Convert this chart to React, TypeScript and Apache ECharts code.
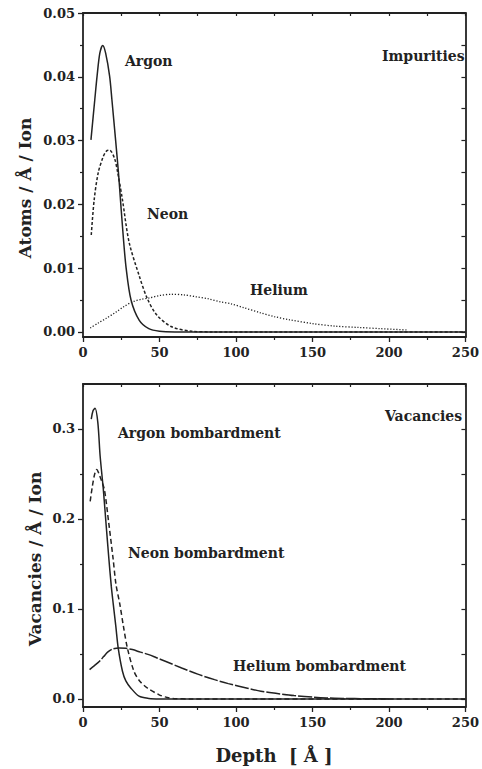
import React, { useEffect, useRef } from "react";
import * as echarts from "echarts";

// Depth profiles: [depth (Å), value]
const impArgon: [number, number][] = [
  [5.2, 0.0301], [7.7, 0.0364], [9.2, 0.0401], [11, 0.0437], [12.9, 0.0449], [14.8, 0.0437],
  [17.4, 0.0401], [18.9, 0.0364], [21.3, 0.0301], [23.2, 0.0249], [24.5, 0.0207], [26.3, 0.015],
  [28.2, 0.01], [31.4, 0.005], [36.8, 0.0018], [43, 0.0005], [50, 0.0001], [60, 0], [100, 0], [250, 0],
];
const impNeon: [number, number][] = [
  [5.4, 0.0152], [7.3, 0.0207], [9.9, 0.0249], [13.1, 0.0274], [15.5, 0.0284], [17.4, 0.0285],
  [20.6, 0.0272], [22.6, 0.0251], [25.8, 0.0207], [30.1, 0.0141], [36.6, 0.0089], [41.9, 0.0053],
  [48.4, 0.0026], [58, 0.0008], [71, 0.0001], [85, 0], [120, 0], [250, 0],
];
const impHelium: [number, number][] = [
  [4.7, 0.0006], [10, 0.0014], [15, 0.0021], [21.5, 0.0031], [27, 0.004], [32.3, 0.0047],
  [38, 0.0051], [43, 0.0053], [50, 0.0057], [58, 0.0059], [66, 0.0058], [74, 0.0055],
  [81.7, 0.0052], [90, 0.0047], [96.8, 0.0044], [105, 0.0038], [116, 0.003], [125, 0.0024],
  [135, 0.0019], [150, 0.0013], [165, 0.0009], [180, 0.0007], [195, 0.0005], [212, 0.0003],
];

const vacArgon: [number, number][] = [
  [5.4, 0.311], [6.5, 0.32], [7.9, 0.323], [9.7, 0.307], [11.2, 0.27], [13.3, 0.2326],
  [15, 0.196], [16.8, 0.158], [18.5, 0.125], [19.8, 0.105], [21.5, 0.08], [23, 0.0567],
  [25.8, 0.0307], [28, 0.02], [31.2, 0.0122], [36.6, 0.003], [43, 0.0005], [50, 0], [90, 0], [250, 0],
];
const vacNeon: [number, number][] = [
  [4.7, 0.2196], [6, 0.235], [7.5, 0.249], [9, 0.255], [10.5, 0.25], [12, 0.243],
  [14, 0.2326], [16.8, 0.196], [19.6, 0.157], [21.5, 0.128], [24.1, 0.105], [26.5, 0.08],
  [29, 0.0567], [33.3, 0.0307], [37, 0.02], [42, 0.0122], [49.5, 0.0048], [55, 0.0015],
  [60, 0.0003], [70, 0], [110, 0], [250, 0],
];
const vacHelium: [number, number][] = [
  [4.3, 0.0326], [7.5, 0.037], [10.8, 0.0418], [13.5, 0.047], [16.1, 0.052], [19.5, 0.0555],
  [23.7, 0.0567], [28, 0.0562], [32.3, 0.0548], [37.5, 0.052], [43, 0.0492], [48, 0.0458],
  [53.8, 0.0418], [64.5, 0.0344], [75, 0.0275], [86, 0.0214], [95, 0.017], [107.5, 0.0118],
  [116.3, 0.0085], [126.9, 0.006], [137.9, 0.0037], [150, 0.002], [159, 0.0011], [170, 0.0005],
  [185, 0.0002], [200, 0],
];

// Axis tick values
const impMajor = [0, 0.01, 0.02, 0.03, 0.04, 0.05];
const impMinor = [0.005, 0.015, 0.025, 0.035, 0.045];
const vacMajor = [0, 0.1, 0.2, 0.3];
const vacMinor = [0.05, 0.15, 0.25];

const INK = "#222";
const FONT = "DejaVu Serif";

function xAxes(gridIndex: number) {
  return [
    {
      gridIndex,
      type: "value",
      position: "bottom",
      min: 0,
      max: 250,
      interval: 50,
      axisLine: { show: true, onZero: false, lineStyle: { color: INK, width: 1.8 } },
      axisTick: { show: true, inside: false, length: 5, lineStyle: { color: INK, width: 1.3 } },
      minorTick: { show: true, splitNumber: 2, length: 3, lineStyle: { color: INK, width: 1.2 } },
      splitLine: { show: false },
      axisLabel: { color: INK, fontFamily: FONT, fontWeight: "bold", fontSize: 13, margin: 9 },
    },
    {
      gridIndex,
      type: "value",
      position: "top",
      min: 0,
      max: 250,
      interval: 25,
      axisLine: { show: true, onZero: false, lineStyle: { color: INK, width: 1.8 } },
      axisTick: { show: true, inside: true, length: 3, lineStyle: { color: INK, width: 1.2 } },
      splitLine: { show: false },
      axisLabel: { show: false },
    },
  ];
}

function yAxes(gridIndex: number, min: number, max: number, major: number[], minor: number[], digits: number) {
  const all = [...major, ...minor].sort((a, b) => a - b);
  return [
    {
      gridIndex,
      type: "value",
      position: "left",
      min,
      max,
      axisLine: { show: true, onZero: false, lineStyle: { color: INK, width: 1.8 } },
      axisTick: { show: true, inside: false, length: 5, customValues: major, lineStyle: { color: INK, width: 1.3 } },
      splitLine: { show: false },
      axisLabel: {
        customValues: major,
        formatter: (v: number) => v.toFixed(digits),
        color: INK,
        fontFamily: FONT,
        fontWeight: "bold",
        fontSize: 13,
        margin: 8,
      },
    },
    {
      gridIndex,
      type: "value",
      position: "left",
      min,
      max,
      axisLine: { show: false, onZero: false },
      axisTick: { show: true, inside: false, length: 3, customValues: minor, lineStyle: { color: INK, width: 1.2 } },
      splitLine: { show: false },
      axisLabel: { show: false },
    },
    {
      gridIndex,
      type: "value",
      position: "right",
      min,
      max,
      axisLine: { show: true, onZero: false, lineStyle: { color: INK, width: 1.8 } },
      axisTick: { show: true, inside: true, length: 4, customValues: all, lineStyle: { color: INK, width: 1.2 } },
      splitLine: { show: false },
      axisLabel: { show: false },
    },
  ];
}

function curve(data: [number, number][], xAxisIndex: number, yAxisIndex: number, type: any, width = 1.5) {
  return {
    type: "line",
    data,
    xAxisIndex,
    yAxisIndex,
    smooth: 0.3,
    showSymbol: false,
    symbol: "none",
    lineStyle: { color: INK, width, type },
    silent: true,
  };
}

function label(text: string, x: number, y: number, size = 14) {
  return {
    type: "text",
    x,
    y,
    style: {
      text,
      fill: INK,
      font: `bold ${size}px "${FONT}"`,
      textAlign: "left",
      textVerticalAlign: "middle",
    },
  };
}

export default function App() {
  const ref = useRef<HTMLDivElement>(null);

  useEffect(() => {
    if (!ref.current) return;
    const chart = echarts.init(ref.current, null, { renderer: "svg" });
    chart.setOption({
      animation: false,
      backgroundColor: "#fff",
      grid: [
        { left: 83, top: 13, width: 387, height: 324 },
        { left: 83, top: 384, width: 387, height: 323 },
      ],
      xAxis: [...xAxes(0), ...xAxes(1)],
      yAxis: [
        ...yAxes(0, -0.0008, 0.05, impMajor, impMinor, 2),
        ...yAxes(1, -0.009, 0.35, vacMajor, vacMinor, 1),
      ],
      series: [
        curve(impArgon, 0, 0, "solid"),
        curve(impNeon, 0, 0, [3, 2]),
        curve(impHelium, 0, 0, [1.2, 1.8], 1.3),
        curve(vacArgon, 2, 3, "solid"),
        curve(vacNeon, 2, 3, [5, 3]),
        curve(vacHelium, 2, 3, [14, 2]),
      ],
      graphic: [
        label("Argon", 125, 61),
        label("Impurities", 382, 56),
        label("Neon", 147, 214),
        label("Helium", 250, 290),
        label("Argon bombardment", 118, 433),
        label("Vacancies", 385, 416),
        label("Neon bombardment", 128, 553),
        label("Helium bombardment", 233, 666),
        {
          type: "text",
          x: 274,
          y: 755,
          style: {
            text: "Depth  [ Å ]",
            fill: INK,
            font: `bold 18px "${FONT}"`,
            textAlign: "center",
            textVerticalAlign: "middle",
          },
        },
        {
          type: "text",
          x: 25,
          y: 188,
          rotation: Math.PI / 2,
          style: {
            text: "Atoms / Å / Ion",
            fill: INK,
            font: `bold 17px "${FONT}"`,
            textAlign: "center",
            textVerticalAlign: "middle",
          },
        },
        {
          type: "text",
          x: 35,
          y: 559,
          rotation: Math.PI / 2,
          style: {
            text: "Vacancies / Å / Ion",
            fill: INK,
            font: `bold 17px "${FONT}"`,
            textAlign: "center",
            textVerticalAlign: "middle",
          },
        },
      ],
    });
    return () => chart.dispose();
  }, []);

  return (
    <div
      ref={ref}
      style={{ position: "fixed", left: 0, top: 0, width: 482, height: 769, background: "#fff" }}
    />
  );
}
